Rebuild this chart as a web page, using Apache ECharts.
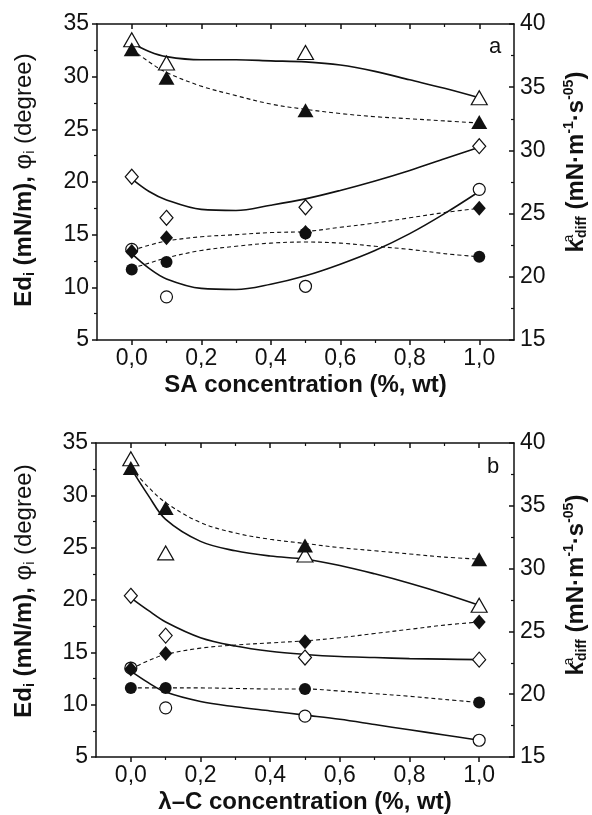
<!DOCTYPE html>
<html>
<head>
<meta charset="utf-8">
<script src="https://cdn.jsdelivr.net/npm/echarts@6/dist/echarts.min.js"></script>
<style>
html, body { margin: 0; padding: 0; background: #fff; }
#chart { width: 592px; height: 815px; }
</style>
</head>
<body>
<div id="chart"></div>
<script>
// measured points (x = concentration, %wt)
const ptX = [0, 0.1, 0.5, 1.0];
const fitX = [0, 0.05, 0.1, 0.2, 0.3, 0.4, 0.5, 0.6, 0.7, 0.8, 0.9, 1.0];
const xTicks = [0, 0.2, 0.4, 0.6, 0.8, 1.0];
const xMinorTicks = [0.1, 0.3, 0.5, 0.7, 0.9];

// panel a - SA
const aOpenTri = [33.5, 31.3, 32.3, 28.0];
const aFillTri = [32.6, 29.9, 26.8, 25.7];
const aOpenDia = [20.5, 16.6, 17.6, 23.4];
const aFillDia = [13.4, 14.7, 15.2, 17.5];
const aFillCir = [11.7, 12.4, 15.1, 12.9];
const aOpenCir = [13.6, 9.1, 10.1, 19.3];

const aFitOpenTri = [33.2, 32.4, 31.9, 31.6, 31.6, 31.5, 31.4, 31.1, 30.5, 29.7, 28.9, 28.0];
const aFitFillTri = [32.6, 31.4, 30.4, 29.1, 28.2, 27.4, 26.9, 26.5, 26.2, 26.0, 25.8, 25.6];
const aFitOpenDia = [20.3, 19.1, 18.3, 17.4, 17.3, 17.8, 18.4, 19.2, 20.1, 21.1, 22.2, 23.3];
const aFitFillDia = [13.5, 14.0, 14.4, 14.8, 15.0, 15.2, 15.3, 15.7, 16.1, 16.6, 17.1, 17.5];
const aFitFillCir = [11.8, 12.3, 12.8, 13.5, 13.9, 14.2, 14.3, 14.2, 13.9, 13.6, 13.2, 12.9];
const aFitOpenCir = [13.2, 11.8, 10.8, 9.9, 9.8, 10.3, 11.1, 12.2, 13.5, 15.1, 17.0, 19.1];

// panel b - lambda-C
const bOpenTri = [33.5, 24.5, 24.3, 19.5];
const bFillTri = [32.6, 28.8, 25.2, 23.9];
const bOpenDia = [20.4, 16.6, 14.5, 14.3];
const bFillDia = [13.4, 14.9, 16.0, 17.9];
const bFillCir = [11.6, 11.6, 11.5, 10.2];
const bOpenCir = [13.5, 9.7, 8.9, 6.6];

const bFitOpenTri = [32.6, 30.0, 27.7, 25.6, 24.7, 24.2, 23.9, 23.3, 22.5, 21.6, 20.6, 19.5];
const bFitFillTri = [32.6, 30.8, 29.3, 27.4, 26.4, 25.8, 25.4, 25.0, 24.7, 24.4, 24.1, 23.9];
const bFitOpenDia = [20.2, 19.0, 17.9, 16.4, 15.6, 15.1, 14.8, 14.6, 14.5, 14.4, 14.35, 14.3];
const bFitFillDia = [13.4, 14.2, 14.8, 15.4, 15.7, 15.9, 16.1, 16.4, 16.8, 17.2, 17.6, 17.9];
const bFitFillCir = [11.6, 11.6, 11.6, 11.6, 11.55, 11.5, 11.5, 11.3, 11.05, 10.8, 10.5, 10.2];
const bFitOpenCir = [13.2, 12.1, 11.2, 10.3, 9.8, 9.4, 9.0, 8.6, 8.1, 7.6, 7.1, 6.6];

const FONT = 'Liberation Sans, Arial, sans-serif';
const INK = '#111';

let chart = echarts.init(document.getElementById('chart'));

function curve(xi, yi, ys, dashed) {
    return {
        type: 'line', xAxisIndex: xi, yAxisIndex: yi,
        data: fitX.map((x, i) => [x, ys[i]]),
        smooth: 0.35, symbol: 'none', silent: true, z: 2,
        lineStyle: { color: INK, width: dashed ? 1.1 : 1.6, type: dashed ? [4, 3] : 'solid' }
    };
}

function marks(xi, yi, ys, symbol, size, filled, z) {
    return {
        type: 'scatter', xAxisIndex: xi, yAxisIndex: yi,
        data: ptX.map((x, i) => [x, ys[i]]),
        symbol: symbol, symbolSize: size, silent: true, z: z,
        itemStyle: {
            color: filled ? INK : '#fff', borderColor: INK,
            borderWidth: filled ? 0 : 1.2, opacity: 1
        }
    };
}

function xAxes(gi, title) {
    const base = { gridIndex: gi, type: 'value', min: -0.1, max: 1.1, splitLine: { show: false } };
    const line = { show: true, onZero: false, lineStyle: { color: INK, width: 1.5 } };
    return [
        Object.assign({}, base, {
            position: 'bottom', axisLine: line,
            axisTick: { customValues: xTicks, length: 5, lineStyle: { color: INK, width: 1.5 } },
            axisLabel: {
                customValues: xTicks, margin: 7, fontSize: 23, fontFamily: FONT, color: INK,
                formatter: v => v.toFixed(1).replace('.', ',')
            },
            name: title, nameLocation: 'middle', nameGap: 33,
            nameTextStyle: { fontSize: 24, fontWeight: 'bold', fontFamily: FONT, color: INK }
        }),
        Object.assign({}, base, {
            position: 'bottom', axisLine: { show: false }, axisLabel: { show: false },
            axisTick: { customValues: xMinorTicks, length: 3, lineStyle: { color: INK, width: 1.2 } }
        }),
        Object.assign({}, base, {
            position: 'top', axisLine: line, axisLabel: { show: false },
            axisTick: { customValues: xTicks, inside: true, length: 5, lineStyle: { color: INK, width: 1.5 } }
        }),
        Object.assign({}, base, {
            position: 'top', axisLine: { show: false }, axisLabel: { show: false },
            axisTick: { customValues: xMinorTicks, inside: true, length: 3, lineStyle: { color: INK, width: 1.2 } }
        })
    ];
}

function yAxes(gi) {
    const line = { show: true, onZero: false, lineStyle: { color: INK, width: 1.5 } };
    const lab = { fontSize: 23, fontFamily: FONT, color: INK };
    return [
        {
            gridIndex: gi, type: 'value', position: 'left', min: 5, max: 35, interval: 5,
            axisLine: line, splitLine: { show: false },
            axisTick: { length: 5, lineStyle: { color: INK, width: 1.5 } },
            minorTick: { show: true, splitNumber: 2, length: 3, lineStyle: { color: INK, width: 1.2 } },
            axisLabel: Object.assign({ margin: 8 }, lab)
        },
        {
            gridIndex: gi, type: 'value', position: 'right', min: 15, max: 40, interval: 5,
            axisLine: line, splitLine: { show: false },
            axisTick: { inside: true, length: 5, lineStyle: { color: INK, width: 1.5 } },
            minorTick: { show: true, splitNumber: 2, length: 3, lineStyle: { color: INK, width: 1.2 } },
            axisLabel: Object.assign({ margin: 6 }, lab)
        }
    ];
}

function panelSeries(xi, yi, d) {
    return [
        curve(xi, yi, d.fitOpenTri, false),
        curve(xi, yi, d.fitFillTri, true),
        curve(xi, yi, d.fitOpenDia, false),
        curve(xi, yi, d.fitFillDia, true),
        curve(xi, yi, d.fitFillCir, true),
        curve(xi, yi, d.fitOpenCir, false),
        marks(xi, yi, d.openTri, 'triangle', [16, 14], false, 3),
        marks(xi, yi, d.openDia, 'diamond', [13, 15], false, 3),
        marks(xi, yi, d.openCir, 'circle', 12, false, 3),
        marks(xi, yi, d.fillTri, 'triangle', [16, 14], true, 4),
        marks(xi, yi, d.fillCir, 'circle', 12, true, 4),
        marks(xi, yi, d.fillDia, 'diamond', [13, 15], true, 5)
    ];
}

const rich = {
    b: { fontSize: 24, fontWeight: 'bold', fontFamily: FONT, color: INK },
    r: { fontSize: 24, fontWeight: 'normal', fontFamily: FONT, color: INK },
    sub: { fontSize: 14, fontWeight: 'bold', fontFamily: FONT, color: INK, padding: [12, 0, 0, 0] },
    subr: { fontSize: 14, fontWeight: 'normal', fontFamily: FONT, color: INK, padding: [12, 0, 0, 0] },
    sup: { fontSize: 14, fontWeight: 'bold', fontFamily: FONT, color: INK, padding: [0, 0, 14, 0] },
    supk: { fontSize: 14, fontWeight: 'normal', fontFamily: FONT, color: INK, padding: [0, 0, 14, 0], width: 1 }
};
const leftTitle = '{b|Ed}{sub|i}{b| (mN/m), }{r|\u03c6}{subr|i}{r| (degree)}';
const rightTitle = '{b|k}{supk|a}{sub|diff}{b| (mN\u00b7m}{sup|-1}{b|\u00b7s}{sup|-05}{b|)}';

function title(x, y, text) {
    return {
        type: 'text', x: x, y: y, rotation: Math.PI / 2, silent: true,
        style: { text: text, rich: rich, align: 'center', verticalAlign: 'middle', fill: INK }
    };
}
function letter(x, y, text) {
    return {
        type: 'text', x: x, y: y, silent: true,
        style: { text: text, font: '22px ' + FONT, align: 'center', verticalAlign: 'middle', fill: INK }
    };
}

const option = {
    backgroundColor: '#fff',
    animation: false,
    grid: [
        { left: 97, top: 24, width: 417, height: 316 },
        { left: 96, top: 443, width: 418, height: 316 }
    ],
    xAxis: xAxes(0, 'SA concentration (%, wt)').concat(xAxes(1, '\u03bb\u2013C concentration (%, wt)')),
    yAxis: yAxes(0).concat(yAxes(1)),
    series: panelSeries(0, 0, {
        openTri: aOpenTri, fillTri: aFillTri, openDia: aOpenDia, fillDia: aFillDia, fillCir: aFillCir, openCir: aOpenCir,
        fitOpenTri: aFitOpenTri, fitFillTri: aFitFillTri, fitOpenDia: aFitOpenDia,
        fitFillDia: aFitFillDia, fitFillCir: aFitFillCir, fitOpenCir: aFitOpenCir
    }).concat(panelSeries(4, 2, {
        openTri: bOpenTri, fillTri: bFillTri, openDia: bOpenDia, fillDia: bFillDia, fillCir: bFillCir, openCir: bOpenCir,
        fitOpenTri: bFitOpenTri, fitFillTri: bFitFillTri, fitOpenDia: bFitOpenDia,
        fitFillDia: bFitFillDia, fitFillCir: bFitFillCir, fitOpenCir: bFitOpenCir
    })),
    graphic: [
        title(24, 180, leftTitle),
        title(24, 591, leftTitle),
        title(576, 162, rightTitle),
        title(576, 585, rightTitle),
        letter(495, 47, 'a'),
        letter(493, 467, 'b')
    ]
};

chart.setOption(option);

window.addEventListener('resize', function () {
    chart.resize();
});
</script>
</body>
</html>
